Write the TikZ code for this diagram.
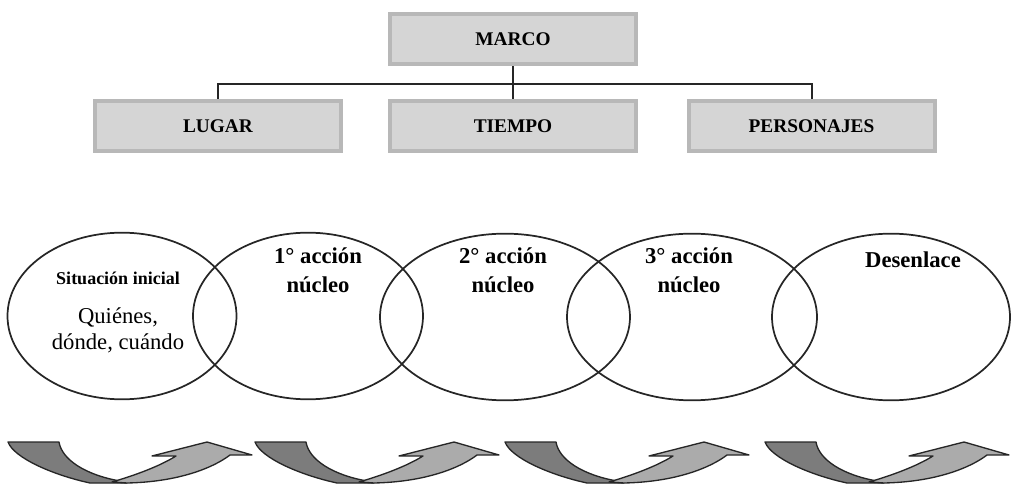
\documentclass[tikz,border=0pt]{standalone}
\usepackage{fontspec}
\setmainfont{Liberation Serif}
\usetikzlibrary{shapes.geometric}
\definecolor{boxfill}{HTML}{D5D5D5}
\definecolor{boxedge}{HTML}{B8B8B8}
\definecolor{arrdark}{HTML}{7C7C7C}
\definecolor{arrlight}{HTML}{ABABAB}
\tikzset{
  topbox/.style={draw=boxedge, fill=boxfill, line width=3pt, minimum width=184.5pt, minimum height=37.5pt, inner sep=0pt, font=\fontsize{14.5pt}{16pt}\selectfont\bfseries},
  conn/.style={draw=black!85, line width=1.5pt},
  ell/.style={ellipse, draw=black!85, line width=1.3pt, minimum height=125pt, inner sep=0pt},
  boldlbl/.style={align=center, font=\fontsize{17pt}{21.5pt}\selectfont\bfseries, inner sep=0pt},
  arrpart/.style={draw=black!85, line width=1pt, line join=round},
  curvarrow/.pic={
    \filldraw[arrpart, fill=arrdark] (0,0) -- (51,0) .. controls (54,18) and (78,33) .. (112,39) -- (119,41) -- (82,41) .. controls (45,33) and (6,16) .. (0,0) -- cycle;
    \filldraw[arrpart, fill=arrlight] (104,40) .. controls (128,33) and (152,24) .. (168,14) -- (144,14) -- (199,0) -- (244,13) -- (222,13) .. controls (205,26) and (170,40) .. (119,41) -- cycle;
  }
}
\begin{document}
\begin{tikzpicture}[x=0.75pt,y=-0.75pt]
\useasboundingbox (0,0) rectangle (1011,488);
% top boxes
\node[topbox] (marco) at (513,39.5) {MARCO};
\node[topbox] (lugar) at (218,126) {LUGAR};
\node[topbox] (tiempo) at (513,126) {TIEMPO};
\node[topbox] (personajes) at (811.5,126) {PERSONAJES};
\coordinate (bus) at (513,84);
\draw[conn] (marco.south) -- (tiempo.north);
\draw[conn] (lugar.north) |- (bus) -| (personajes.north);
% ellipses
\node[ell, minimum width=171.75pt] (e1) at (122,316) {};
\node[ell, minimum width=172.5pt] (e2) at (308,316) {};
\node[ell, minimum width=187.5pt] (e3) at (505,317) {};
\node[ell, minimum width=187.5pt] (e4) at (692,317) {};
\node[ell, minimum width=178.5pt] (e5) at (891,317) {};
% texts
\node[font=\fontsize{13.5pt}{15pt}\selectfont\bfseries, inner sep=0pt] (t1a) at (118,278) {Situación inicial};
\node[align=center, font=\fontsize{17pt}{19.5pt}\selectfont, inner sep=0pt] (t1b) at (118,330) {Quiénes,\\dónde, cuándo};
\node[boldlbl] (t2) at (318,270.5) {1° acción\\núcleo};
\node[boldlbl] (t3) at (503,270.5) {2° acción\\núcleo};
\node[boldlbl] (t4) at (689,270.5) {3° acción\\núcleo};
\node[boldlbl] (t5) at (913,260) {Desenlace};
% curved arrows
\pic at (8,442) {curvarrow};
\pic at (255,442) {curvarrow};
\pic at (505,442) {curvarrow};
\pic at (765,442) {curvarrow};
\end{tikzpicture}
\end{document}
